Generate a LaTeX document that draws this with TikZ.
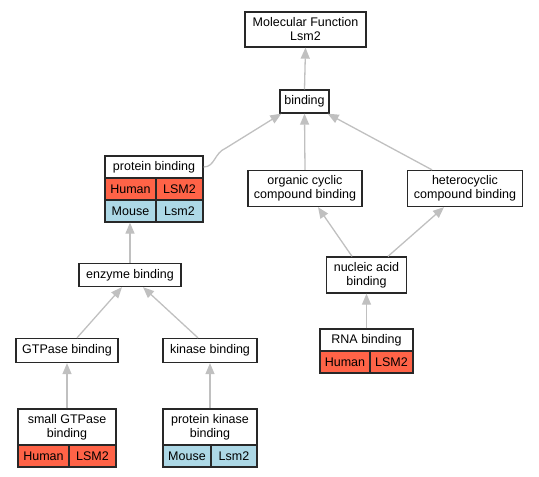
\documentclass[tikz,border=0pt]{standalone}
\usepackage{fontspec}
\setmainfont{Liberation Sans}
\usetikzlibrary{arrows.meta}
\definecolor{humanc}{RGB}{255,99,71}
\definecolor{mousec}{RGB}{173,216,230}
\definecolor{edgec}{RGB}{192,192,192}
\definecolor{borderc}{RGB}{40,40,40}
\begin{document}
\begin{tikzpicture}[x=1pt,y=-1pt,
  box/.style={draw=borderc,line width=1.3pt,fill=white,inner sep=0pt,align=center,
    font=\fontsize{12.5}{14}\selectfont},
  human/.style={box,fill=humanc},
  mouse/.style={box,fill=mousec},
  edge/.style={draw=edgec,line width=1.3pt,-{Triangle[length=11pt,width=9pt]}}]
\useasboundingbox (0,0) rectangle (539,477);
% plain nodes
\node[box,minimum width=121pt,minimum height=35pt] (mf) at (305.5,29.5) {Molecular Function\\Lsm2};
\node[box,minimum width=49pt,minimum height=23pt] (bind) at (304.5,101.5) {binding};
\node[box,minimum width=114pt,minimum height=36pt] (org) at (305,188.5) {organic cyclic\\compound binding};
\node[box,minimum width=115pt,minimum height=36pt] (het) at (465,188.5) {heterocyclic\\compound binding};
\node[box,minimum width=102pt,minimum height=23pt] (enz) at (130,275) {enzyme binding};
\node[box,minimum width=80pt,minimum height=36pt] (nuc) at (366.5,275) {nucleic acid\\binding};
\node[box,minimum width=102pt,minimum height=24pt] (gtp) at (67,350.5) {GTPase binding};
\node[box,minimum width=94pt,minimum height=24pt] (kin) at (210,350.5) {kinase binding};
% protein binding table
\node[box,minimum width=98pt,minimum height=22pt] (pb) at (154,167) {protein binding};
\node[human,minimum width=51pt,minimum height=22pt] (pbh) at (130.5,189) {Human};
\node[human,minimum width=47pt,minimum height=22pt] (pbhg) at (179.5,189) {LSM2};
\node[mouse,minimum width=51pt,minimum height=22pt] (pbm) at (130.5,211) {Mouse};
\node[mouse,minimum width=47pt,minimum height=22pt] (pbmg) at (179.5,211) {Lsm2};
% RNA binding table
\node[box,minimum width=93pt,minimum height=22pt] (rna) at (366.5,340) {RNA binding};
\node[human,minimum width=50pt,minimum height=22pt] (rnah) at (345,362) {Human};
\node[human,minimum width=43pt,minimum height=22pt] (rnahg) at (391.5,362) {LSM2};
% small GTPase binding table
\node[box,minimum width=98pt,minimum height=36pt] (sg) at (67,427) {small GTPase\\binding};
\node[human,minimum width=51pt,minimum height=22pt] (sgh) at (43.5,456) {Human};
\node[human,minimum width=47pt,minimum height=22pt] (sghg) at (92.5,456) {LSM2};
% protein kinase binding table
\node[box,minimum width=94pt,minimum height=36pt] (pk) at (210,427) {protein kinase\\binding};
\node[mouse,minimum width=48pt,minimum height=22pt] (pkm) at (187,456) {Mouse};
\node[mouse,minimum width=46pt,minimum height=22pt] (pkmg) at (234,456) {Lsm2};
% edges
\draw[edge] (bind.north) -- (mf.south);
\draw[edge] (org.north) -- (bind.south);
\draw[edge] ([xshift=-33pt]het.north) -- ([xshift=-2pt]bind.south east);
\coordinate (bend) at (226,148);
\draw[edge] (pb.east) .. controls (215,167) and (214,153) .. (bend) -- ([xshift=2pt]bind.south west);
\draw[edge] ([xshift=-14.5pt]nuc.north) -- ([xshift=13pt]org.south);
\draw[edge] ([xshift=21.5pt]nuc.north) -- ([xshift=-21pt]het.south);
\draw[edge] (rna.north) -- (nuc.south);
\draw[edge] (enz.north) -- (pbm.south -| enz.north);
\draw[edge] ([xshift=10pt]gtp.north) -- ([xshift=-8pt]enz.south);
\draw[edge] ([xshift=-12pt]kin.north) -- ([xshift=13pt]enz.south);
\draw[edge] (sg.north) -- (gtp.south);
\draw[edge] (pk.north) -- (kin.south);
\end{tikzpicture}
\end{document}
